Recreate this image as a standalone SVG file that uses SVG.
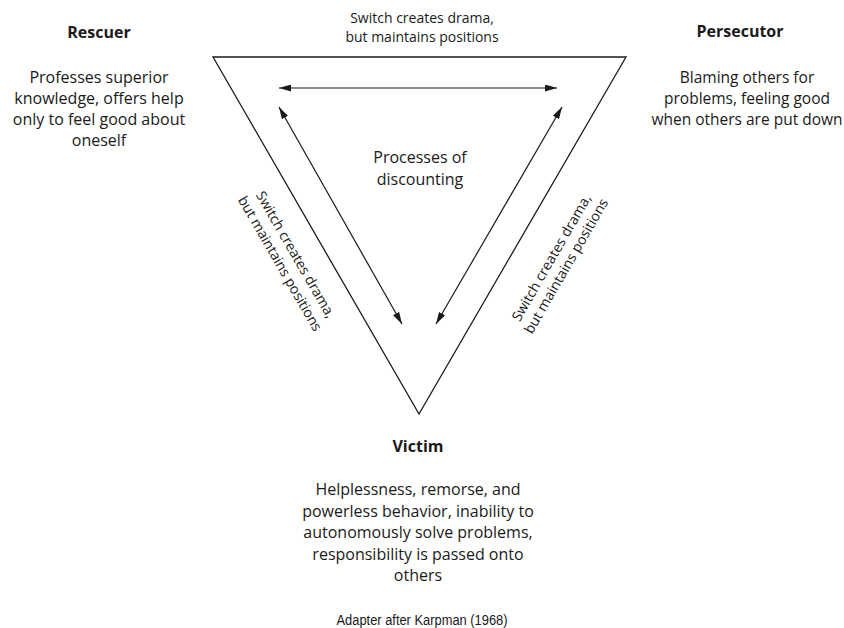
<svg xmlns="http://www.w3.org/2000/svg" width="844" height="628" viewBox="0 0 844 628">
  <style>
    text { font-family: "Open Sans", "Noto Sans", "Liberation Sans", sans-serif; fill: #1a1a1a; text-anchor: middle; }
    .head { font-size: 16px; font-weight: bold; }
    .body { font-size: 16px; }
    .tight { font-size: 15.5px; }
    .edge { font-size: 14px; }
    .credit { font-family: "Liberation Sans Narrow", "Liberation Sans", sans-serif; font-size: 14px; }
    .tri { fill: none; stroke: #1a1a1a; stroke-width: 1.3; stroke-linejoin: miter; }
    .link { fill: none; stroke: #1a1a1a; stroke-width: 1.2; marker-start: url(#head); marker-end: url(#head); }
  </style>
  <defs>
    <marker id="head" viewBox="0 0 12 7" refX="12" refY="3.5" markerWidth="12" markerHeight="7" markerUnits="userSpaceOnUse" orient="auto-start-reverse">
      <path d="M0,0 L12,3.5 L0,7 Z" fill="#1a1a1a"/>
    </marker>
  </defs>
  <rect width="844" height="628" fill="#ffffff"/>

  <!-- drama triangle -->
  <polygon class="tri" points="213,57 626,57 419,414"/>

  <!-- switches between roles -->
  <g id="connectors">
    <line class="link" x1="279" y1="88" x2="557" y2="88"/>
    <line class="link" x1="279" y1="107" x2="402" y2="324"/>
    <line class="link" x1="562" y1="107" x2="436" y2="324"/>
  </g>

  <!-- edge labels -->
  <g id="label-top" class="edge">
    <text x="422" y="23">Switch creates drama,</text>
    <text x="422" y="42">but maintains positions</text>
  </g>
  <g id="label-left" class="edge" transform="translate(288,259) rotate(60)">
    <text x="0" y="-4">Switch creates drama,</text>
    <text x="0" y="14">but maintains positions</text>
  </g>
  <g id="label-right" class="edge" transform="translate(559,262) rotate(-60)">
    <text x="0" y="-4">Switch creates drama,</text>
    <text x="0" y="13">but maintains positions</text>
  </g>

  <g id="center">
    <text class="body" x="420" y="163">Processes of</text>
    <text class="body" x="420" y="185">discounting</text>
  </g>

  <g id="rescuer">
    <text class="head" x="99" y="38">Rescuer</text>
    <text class="body" x="99" y="83">Professes superior</text>
    <text class="body" x="99" y="104">knowledge, offers help</text>
    <text class="body" x="99" y="125">only to feel good about</text>
    <text class="body" x="99" y="146">oneself</text>
  </g>

  <g id="persecutor">
    <text class="head" x="740" y="37">Persecutor</text>
    <text class="tight" x="747" y="83">Blaming others for</text>
    <text class="tight" x="747" y="104">problems, feeling good</text>
    <text class="tight" x="747" y="125">when others are put down</text>
  </g>

  <g id="victim">
    <text class="head" x="418" y="452">Victim</text>
    <text class="body" x="418" y="495">Helplessness, remorse, and</text>
    <text class="body" x="418" y="517">powerless behavior, inability to</text>
    <text class="body" x="418" y="538">autonomously solve problems,</text>
    <text class="body" x="418" y="560">responsibility is passed onto</text>
    <text class="body" x="418" y="581">others</text>
  </g>

  <text class="credit" x="422" y="625" textLength="171" lengthAdjust="spacingAndGlyphs">Adapter after Karpman (1968)</text>
</svg>
